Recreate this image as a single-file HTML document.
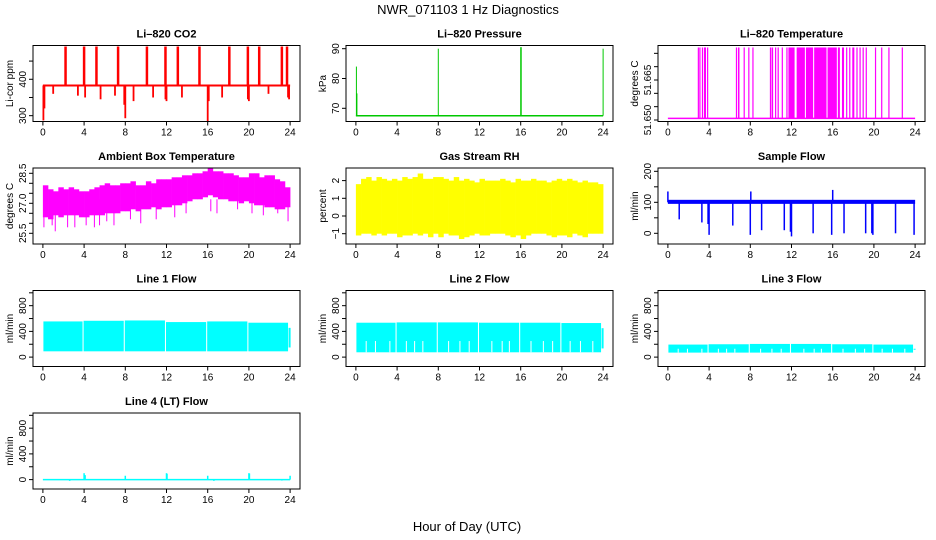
<!DOCTYPE html>
<html><head><meta charset="utf-8"><style>
body{margin:0;background:#fff;}
svg{display:block;font-family:"Liberation Sans",Arial,sans-serif;}
</style></head><body>
<svg id="chart" width="936" height="540" viewBox="0 0 936 540" xmlns="http://www.w3.org/2000/svg">
<rect width="936" height="540" fill="#fff"/>
<text x="468" y="14" text-anchor="middle" font-size="13">NWR_071103  1 Hz Diagnostics</text>
<text x="467" y="531" text-anchor="middle" font-size="13">Hour of Day (UTC)</text>
</svg>
<script>
// ---------- data ----------
const xTicks = [0,4,8,12,16,20,24];
const co2Base = 383;
const co2UpX = [2.2,4.0,5.2,7.3,10.1,11.9,13.1,15.2,18.1,19.9,21.0,23.2,23.7];
const co2UpV = [490,490,490,490,490,490,490,490,490,490,490,490,490];
const co2DownX = [0.05,0.15,1.0,3.4,4.1,5.6,7.0,7.9,8.0,8.8,10.7,11.9,12.0,13.5,16.0,16.1,17.4,19.9,20.0,21.9,23.8,23.9];
const co2DownV = [287,320,360,355,350,345,355,330,293,340,350,345,340,350,285,340,350,345,340,360,350,345];
const presBase = 67.5;
const presSpikeX = [0.05,0.1,8.0,16.0,16.05,24.0];
const presSpikeV = [84,75,90,90.5,90.5,90];
const tempLow = 51.6506, tempHigh = 51.6772;
const tempHighStart = [2.9,3.05,3.3,3.5,3.8,6.6,6.8,7.35,7.8,8.2,9.9,10.1,10.4,10.65,11.05,11.5,11.7,12.0,12.5,13.4,14.2,15.5,16.5,16.9,17.3,17.6,17.9,18.3,18.6,18.9,19.2,20.1,20.7,21.4,22.7];
const tempHighEnd   = [2.97,3.1,3.35,3.7,3.85,6.7,6.95,7.4,7.85,8.25,10.05,10.15,10.45,10.7,11.1,11.6,12.0,12.3,13.3,14.1,15.4,16.4,16.7,17.1,17.4,17.7,18.1,18.4,18.7,19.0,19.3,20.15,20.75,21.45,22.75];
const ambHi = [27.9,27.7,27.6,27.8,27.7,27.8,27.7,27.6, 27.6,27.7,27.8,27.9,28.0,27.9,27.9,28.0, 28.0,28.1,27.9,27.9,28.1,28.0,28.2,28.2, 28.2,28.3,28.3,28.4,28.4,28.5,28.5,28.6, 28.8,28.6,28.6,28.5,28.5,28.4,28.3,28.3, 28.5,28.5,28.3,28.4,28.4,28.2,28.1,27.8];
const ambLo = [26.3,26.2,26.4,26.3,26.4,26.4,26.4,26.3, 26.3,26.4,26.4,26.4,26.5,26.5,26.5,26.6, 26.6,26.7,26.6,26.7,26.7,26.8,26.7,26.8, 26.8,26.9,26.9,27.0,27.1,27.2,27.2,27.3, 27.4,27.3,27.2,27.2,27.1,27.1,27.0,27.1, 27.0,26.9,26.9,26.8,26.8,26.7,26.7,26.8];
const ambSpikeX = [0.1,0.9,1.2,2.4,3.1,4.2,5.0,5.5,6.2,6.9,8.5,9.5,11.0,12.8,13.9,16.3,16.9,18.9,20.3,21.4,22.8,23.8];
const ambSpikeV = [25.8,25.9,25.6,25.8,25.8,25.9,25.8,25.9,26.1,25.9,26.2,26.0,26.2,26.3,26.5,26.6,26.5,26.7,26.5,26.4,26.5,26.1];
const rhHi = [1.8,2.1,2.2,2.0,2.2,2.1,2.0,2.1, 2.0,2.2,2.1,2.2,2.4,2.1,2.1,2.2, 2.2,2.1,2.0,2.2,2.0,2.1,2.0,1.9, 2.1,2.0,2.0,2.0,2.1,2.0,1.9,2.1, 2.0,2.0,2.1,2.0,2.0,1.9,2.0,2.1, 2.0,2.1,2.0,1.9,2.0,1.9,1.9,1.8];
const rhLo = [-1.1,-1.0,-1.0,-1.1,-1.0,-1.1,-1.0,-1.0, -1.2,-1.1,-1.1,-1.0,-1.1,-1.0,-1.2,-1.0, -1.2,-1.0,-1.1,-1.1,-1.3,-1.2,-1.1,-1.0, -1.1,-1.1,-1.0,-1.0,-1.0,-1.1,-1.2,-1.1, -1.3,-1.1,-1.0,-1.0,-1.0,-1.1,-1.2,-1.1, -1.1,-1.2,-1.0,-1.1,-1.2,-1.0,-1.0,-1.0];
const sfLo = 95, sfHi = 108;
const sfSpikeX = [0.0,1.1,3.3,3.9,4.0,6.3,8.0,8.05,9.1,11.3,11.9,12.0,14.1,15.9,16.0,17.1,19.2,19.8,19.9,22.1,23.9];
const sfSpikeV = [135,45,35,30,-5,25,-5,135,10,10,5,-10,0,-5,140,0,0,0,-5,0,-5];
const blockStart = [0.05,3.95,7.95,11.95,15.95,19.95];
const blockEnd   = [3.85,7.85,11.85,15.85,19.85,23.8];
const l1Hi = [555,565,570,545,555,535], l1Lo = [90,90,90,90,90,90];
const l2Hi = [535,540,540,535,535,530], l2Lo = [75,75,75,75,75,75];
const l3Hi = [195,200,205,205,200,195], l3Lo = [70,70,70,70,70,70];
const notchX = [1.0,1.9,3.3,4.9,5.7,6.5,9.0,10.1,11.0,13.2,14.2,14.9,17.0,18.2,19.1,20.8,21.8,23.0];
const l4SpikeX = [2.6,4.0,4.1,8.0,12.0,12.05,16.0,16.6,20.0,20.05,23.2,24.0];
const l4SpikeV = [-20,100,70,60,100,90,60,-20,100,95,-15,60];

// ---------- layout ----------
const svg = document.getElementById('chart');
const NS = 'http://www.w3.org/2000/svg';
const colX = [33,346,658], rowY = [45.5,168,290.5,413], BW = 267, BH = 76;
function mk(tag, attrs, parent){ const e=document.createElementNS(NS,tag); for(const k in attrs) e.setAttribute(k,attrs[k]); (parent||svg).appendChild(e); return e; }

function panel(name, title, col, row, vb, vt, ticks, labels, ytitle){
  const bx=colX[col], by=rowY[row];
  const g=mk('g',{});
  
  
  const P={g,bx,by,
    x:h=>bx+BW*(h+0.96)/25.92,
    y:v=>by+BH-(v-vb)/(vt-vb)*BH};
  const cid='clip-'+name;
  const cp=mk('clipPath',{id:cid},g); mk('rect',{x:bx,y:by,width:BW,height:BH},cp);
  P.d=mk('g',{'clip-path':'url(#'+cid+')'},g);
  
  
  P.finish=()=>{
    const box=mk('rect',{x:bx,y:by,width:BW,height:BH,fill:'none',stroke:'#000','stroke-width':1},g);
    
    
    const t=mk('text',{x:bx+BW/2,y:by-8,'text-anchor':'middle','font-size':11,'font-weight':'bold'},g); t.textContent=title;
    
    
    const yb=by+BH;
    mk('line',{x1:P.x(0),x2:P.x(24),y1:yb,y2:yb,stroke:'#000'},g);
    xTicks.forEach(h=>{
      mk('line',{x1:P.x(h),x2:P.x(h),y1:yb,y2:yb+4,stroke:'#000'},g);
      const l=mk('text',{x:P.x(h),y:yb+14,'text-anchor':'middle','font-size':10},g); l.textContent=h;
      
      
    });
    mk('line',{x1:bx,x2:bx,y1:P.y(ticks[0]),y2:P.y(ticks[ticks.length-1]),stroke:'#000'},g);
    ticks.forEach((v,i)=>{
      const yy=P.y(v);
      mk('line',{x1:bx-4,x2:bx,y1:yy,y2:yy,stroke:'#000'},g);
      if(labels[i]){
        const l=mk('text',{x:0,y:0,'text-anchor':'middle','font-size':10,transform:`translate(${bx-7},${yy}) rotate(-90)`},g); l.textContent=labels[i];
        
        
      }
    });
    const yt=mk('text',{x:0,y:0,'text-anchor':'middle','font-size':10,transform:`translate(${bx-20},${by+BH/2}) rotate(-90)`},g); yt.textContent=ytitle;
    
    
  };
  return P;
}
function vline(P,h,v1,v2,c,w){ mk('line',{x1:P.x(h),x2:P.x(h),y1:P.y(v1),y2:P.y(v2),stroke:c,'stroke-width':w||1.2},P.d); }
function hline(P,h1,h2,v,c,w){ mk('line',{x1:P.x(h1),x2:P.x(h2),y1:P.y(v),y2:P.y(v),stroke:c,'stroke-width':w||1.5},P.d); }
function bins(P,lo,hi,c){
  const n=lo.length, w=24/n;
  lo.forEach((l,i)=>{ const x1=P.x(i*w), x2=P.x((i+1)*w);
    mk('rect',{x:x1,y:P.y(hi[i]),width:x2-x1+0.3,height:P.y(l)-P.y(hi[i]),fill:c},P.d); });
}

// CO2
let P=panel('co2','Li\u2013820 CO2',0,0,284,492.8,[300,350,400,450],['300','','400',''],'Li-cor ppm');
hline(P,0,24,co2Base,'#f00',2);
co2UpX.forEach((h,i)=>vline(P,h,co2Base,co2UpV[i],'#f00',2.5));
co2DownX.forEach((h,i)=>vline(P,h,co2Base,co2DownV[i],'#f00',1.8));
P.finish();
// Pressure
P=panel('pressure','Li\u2013820 Pressure',1,0,65.57,91.07,[70,80,90],['70','80','90'],'kPa');
hline(P,0,24,presBase,'#00c800',1.5);
presSpikeX.forEach((h,i)=>vline(P,h,presBase,presSpikeV[i],'#00c800',1));
P.finish();
// Temperature
P=panel('li-temp','Li\u2013820 Temperature',2,0,51.64944,51.67794,[51.650,51.655,51.660,51.665,51.670,51.675],['51.650','','','51.665','',''],'degrees C');
hline(P,0,24,tempLow,'#f0f',1.5);
tempHighStart.forEach((s,i)=>{ const x1=P.x(s), x2=P.x(tempHighEnd[i]);
  mk('rect',{x:x1,y:P.y(tempHigh),width:Math.max(1.2,x2-x1),height:P.y(tempLow)-P.y(tempHigh),fill:'#f0f'},P.d); });
P.finish();
// Ambient
P=panel('ambient','Ambient Box Temperature',0,1,24.965,28.765,[25.5,26,26.5,27,27.5,28,28.5],['25.5','','','27.0','','','28.5'],'degrees C');
bins(P,ambLo,ambHi,'#f0f');
ambSpikeX.forEach((h,i)=>vline(P,h,27.2,ambSpikeV[i],'#f0f',1));
P.finish();
// RH
P=panel('rh','Gas Stream RH',1,1,-1.582,2.712,[-1,0,1,2],['\u22121','0','1','2'],'percent');
bins(P,rhLo,rhHi,'#ff0');
P.finish();
// Sample flow
P=panel('sample-flow','Sample Flow',2,1,-34.5,210.7,[0,50,100,150,200],['0','','100','','200'],'ml/min');
mk('rect',{x:P.x(0),y:P.y(sfHi),width:P.x(24)-P.x(0),height:P.y(sfLo)-P.y(sfHi),fill:'#00f'},P.d);
sfSpikeX.forEach((h,i)=>vline(P,h,100,sfSpikeV[i],'#00f',1.5));
P.finish();
// Line flows
const fT=[0,200,400,600,800,1000], fL=['0','','400','','800',''];
function lineFlow(name,title,col,row,hi,lo,notch){
  const Q=panel(name,title,col,row,-146,1036,fT,fL,'ml/min');
  blockStart.forEach((s,i)=>{ const x1=Q.x(s),x2=Q.x(blockEnd[i]);
    mk('rect',{x:x1,y:Q.y(hi[i]),width:x2-x1,height:Q.y(lo[i])-Q.y(hi[i]),fill:'#0ff'},Q.d); });
  vline(Q,23.95,hi[5]-80,lo[5]+60,'#0ff',2);
  if(notch) notchX.forEach(h=>vline(Q,h,lo[0],notch,'#fff',1));
  Q.finish();
}
lineFlow('line1-flow','Line 1 Flow',0,2,l1Hi,l1Lo,0);
lineFlow('line2-flow','Line 2 Flow',1,2,l2Hi,l2Lo,250);
lineFlow('line3-flow','Line 3 Flow',2,2,l3Hi,l3Lo,130);
P=panel('line4-flow','Line 4 (LT) Flow',0,3,-146,1036,fT,fL,'ml/min');
hline(P,0,24,0,'#0ff',1.5);
l4SpikeX.forEach((h,i)=>vline(P,h,0,l4SpikeV[i],'#0ff',1.5));
P.finish();
</script>
</body></html>
